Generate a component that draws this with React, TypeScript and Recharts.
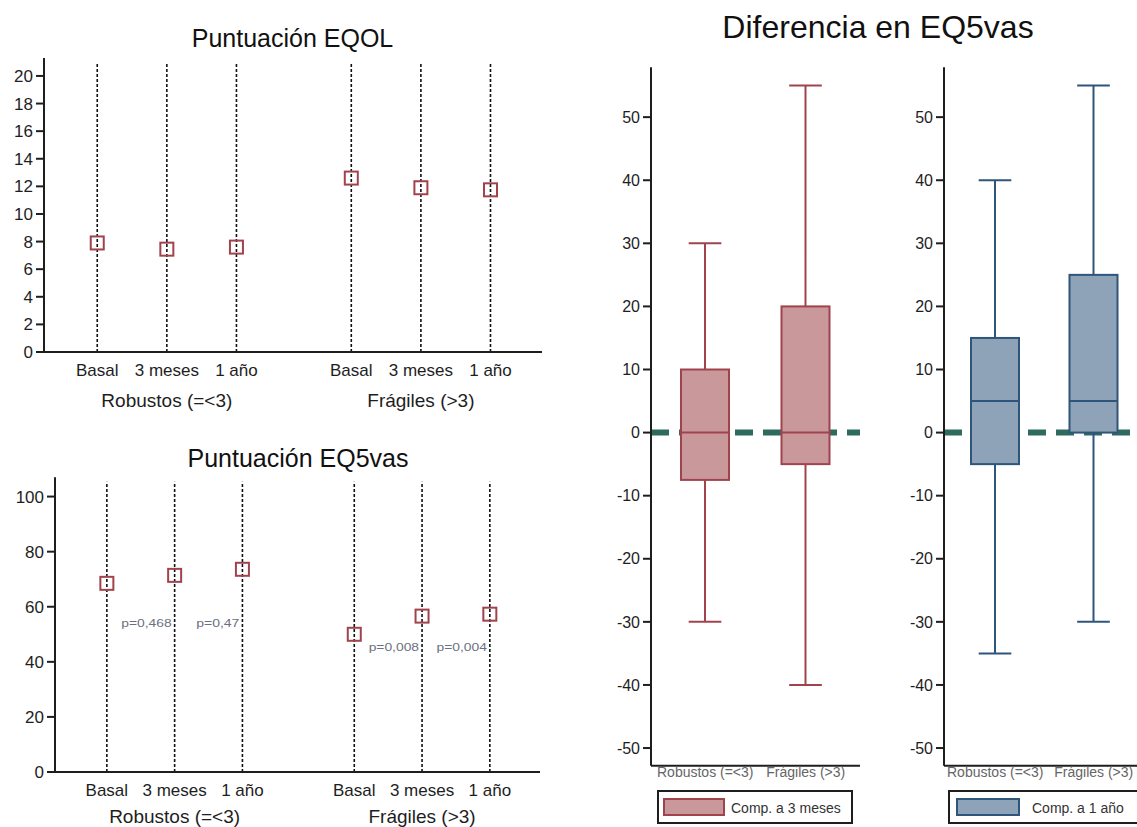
import { ScatterChart, Scatter, XAxis, YAxis, ReferenceLine, BarChart, Bar } from "recharts";

const timepoints = ["Basal", "3 meses", "1 año"];
const groups = ["Robustos (=<3)", "Frágiles (>3)"];

// mean EQOL score per time point
const eqolRobustos = [7.9, 7.45, 7.6];
const eqolFragiles = [12.6, 11.9, 11.75];

// mean EQ5 VAS per time point
const vasRobustos = [68.5, 71.4, 73.6];
const vasFragiles = [50, 56.6, 57.3];
const pRobustos = ["p=0,468", "p=0,47"];
const pFragiles = ["p=0,008", "p=0,004"];

const eqolTicks = [0, 2, 4, 6, 8, 10, 12, 14, 16, 18, 20];
const vasTicks = [0, 20, 40, 60, 80, 100];
const diffTicks = [-50, -40, -30, -20, -10, 0, 10, 20, 30, 40, 50];

// VAS change, box stats as [min, q1, median, q3, max]
const diff3mRobustos = [-30, -7.5, 0, 10, 30];
const diff3mFragiles = [-40, -5, 0, 20, 55];
const diff1aRobustos = [-35, -5, 5, 15, 40];
const diff1aFragiles = [-30, 0, 5, 25, 55];

const FONT = '"Liberation Sans", Arial, sans-serif';
const INK = "#1e1e1e";
const MARKER = "#a0434c";
const ZERO_LINE = "#2e6b5e";
const RED_FILL = "#c8989b";
const RED_LINE = "#a0434c";
const BLUE_FILL = "#8ea3b8";
const BLUE_LINE = "#2f557a";

// spacing between the two groups on the numeric x axis
const GROUP_STEP = 3.65;
const X_DOMAIN: [number, number] = [-0.765, 6.39];
const DIFF_DOMAIN: [number, number] = [-52.8, 57.9];
const xs = groups.flatMap((_, gi) => timepoints.map((_, ti) => gi * GROUP_STEP + ti));

const toPoints = (series: number[][]) =>
  series.flatMap((vals, gi) => vals.map((v, ti) => ({ x: gi * GROUP_STEP + ti, y: v })));

const eqolPoints = toPoints([eqolRobustos, eqolFragiles]);
const vasPoints = toPoints([vasRobustos, vasFragiles]);

// p-value labels sit left of the later time point, a bit under the baseline mean
const pDrop = [14.5, 4.7];
const pPoints = [pRobustos, pFragiles].flatMap((labels, gi) =>
  labels.map((text, k) => ({
    x: gi * GROUP_STEP + k + 1,
    y: [vasRobustos, vasFragiles][gi][0] - pDrop[gi],
    text,
  }))
);

const toBox = (stats: number[], group: string) => ({
  group,
  min: stats[0],
  q1: stats[1],
  median: stats[2],
  q3: stats[3],
  max: stats[4],
});
const box3m = [toBox(diff3mRobustos, groups[0]), toBox(diff3mFragiles, groups[1])];
const box1a = [toBox(diff1aRobustos, groups[0]), toBox(diff1aFragiles, groups[1])];

const SquareMarker = (props: any) => {
  const { cx, cy } = props;
  return <rect x={cx - 6.5} y={cy - 6.5} width={13} height={13} fill="none" stroke={MARKER} strokeWidth={2} />;
};

const PLabel = (props: any) => {
  const { cx, cy, payload } = props;
  return (
    <text
      x={cx - 3}
      y={cy}
      textAnchor="end"
      dominantBaseline="central"
      fontSize={10}
      fontFamily={FONT}
      fill="#6b7080"
      textLength={payload.text.length * 7.2}
      lengthAdjust="spacingAndGlyphs"
    >
      {payload.text}
    </text>
  );
};

const makeTimeTick = (groupDy: number) => (props: any) => {
  const { x, y, payload } = props;
  const i = xs.indexOf(payload.value);
  if (i < 0) return null;
  const gi = Math.floor(i / 3);
  const ti = i % 3;
  return (
    <g fontFamily={FONT} fill={INK}>
      <text x={x} y={y + 24} textAnchor="middle" fontSize={17}>
        {timepoints[ti]}
      </text>
      {ti === 1 && (
        <text x={x} y={y + groupDy} textAnchor="middle" fontSize={19}>
          {groups[gi]}
        </text>
      )}
    </g>
  );
};

const yTickStyle = (size: number) => ({ fill: INK, fontSize: size, fontFamily: FONT });

const MeansPanel = ({ points, yMax, ticks, withP, width, height, margin, yWidth, groupDy }: any) => {
  const Tick = makeTimeTick(groupDy);
  return (
    <ScatterChart width={width} height={height} margin={margin}>
      <XAxis
        type="number"
        dataKey="x"
        domain={X_DOMAIN}
        ticks={xs}
        interval={0}
        allowDataOverflow
        tickLine={false}
        tickSize={0}
        tickMargin={0}
        height={50}
        axisLine={{ stroke: INK, strokeWidth: 2 }}
        tick={<Tick />}
      />
      <YAxis
        type="number"
        dataKey="y"
        domain={[0, yMax]}
        ticks={ticks}
        interval={0}
        allowDataOverflow
        width={yWidth}
        tickSize={8}
        tickMargin={3}
        axisLine={{ stroke: INK, strokeWidth: 2 }}
        tickLine={{ stroke: INK, strokeWidth: 2 }}
        tick={yTickStyle(17)}
      />
      {xs.map((x) => (
        <ReferenceLine
          key={x}
          segment={[
            { x, y: 0 },
            { x, y: yMax * 0.985 },
          ]}
          stroke="#111"
          strokeWidth={1.6}
          strokeDasharray="3 2"
        />
      ))}
      <Scatter data={points} shape={<SquareMarker />} isAnimationActive={false} />
      {withP && <Scatter data={pPoints} shape={<PLabel />} isAnimationActive={false} />}
    </ScatterChart>
  );
};

const BoxShape = (props: any) => {
  const { x, y, width, height, payload, boxFill, boxStroke } = props;
  const top = Math.min(y, y + height);
  const h = Math.abs(height);
  const k = h / (payload.q3 - payload.q1);
  const py = (v: number) => top + (payload.q3 - v) * k;
  const cx = x + width / 2;
  const cap = width * 0.34;
  return (
    <g stroke={boxStroke} strokeWidth={2}>
      <line x1={cx} x2={cx} y1={py(payload.max)} y2={top} />
      <line x1={cx} x2={cx} y1={top + h} y2={py(payload.min)} />
      <line x1={cx - cap} x2={cx + cap} y1={py(payload.max)} y2={py(payload.max)} />
      <line x1={cx - cap} x2={cx + cap} y1={py(payload.min)} y2={py(payload.min)} />
      <rect x={x} y={top} width={width} height={h} fill={boxFill} />
      <line x1={x} x2={x + width} y1={py(payload.median)} y2={py(payload.median)} />
    </g>
  );
};

const GroupTick = (props: any) => {
  const { x, y, payload } = props;
  return (
    <text x={x} y={y + 11} textAnchor="middle" fontSize={14} fontFamily={FONT} fill="#666">
      {payload.value}
    </text>
  );
};

const BoxPanel = ({ data, fill, stroke, margin, width, padding }: any) => (
  <BarChart width={width} height={827} data={data} margin={margin} barSize={48}>
    {/* dashed zero line stays behind the boxes */}
    <ReferenceLine y={0} stroke={ZERO_LINE} strokeWidth={6} strokeDasharray="18 10" zIndex={-1} />
    <XAxis
      dataKey="group"
      padding={padding}
      height={30}
      tickLine={false}
      tickSize={0}
      tickMargin={0}
      interval={0}
      axisLine={{ stroke: INK, strokeWidth: 2 }}
      tick={<GroupTick />}
    />
    <YAxis
      type="number"
      domain={DIFF_DOMAIN}
      ticks={diffTicks}
      interval={0}
      allowDataOverflow
      width={50}
      tickSize={8}
      tickMargin={3}
      axisLine={{ stroke: INK, strokeWidth: 2 }}
      tickLine={{ stroke: INK, strokeWidth: 2 }}
      tick={yTickStyle(16)}
    />
    <Bar
      dataKey={(d: any) => [d.q1, d.q3]}
      shape={<BoxShape boxFill={fill} boxStroke={stroke} />}
      isAnimationActive={false}
    />
  </BarChart>
);

export default function App() {
  return (
    <div
      style={{
        position: "absolute",
        left: 0,
        top: 0,
        width: 1137,
        height: 827,
        overflow: "hidden",
        background: "#fff",
        fontFamily: FONT,
      }}
    >
      <div style={{ position: "absolute", left: 0, top: 0 }}>
        <MeansPanel
          points={eqolPoints}
          yMax={21.3}
          ticks={eqolTicks}
          withP={false}
          width={560}
          height={420}
          margin={{ top: 58, right: 18, bottom: 18, left: 4 }}
          yWidth={40}
          groupDy={55}
        />
      </div>
      <div style={{ position: "absolute", left: 0, top: 420 }}>
        <MeansPanel
          points={vasPoints}
          yMax={107}
          ticks={vasTicks}
          withP
          width={560}
          height={407}
          margin={{ top: 57.3, right: 20, bottom: 5, left: 5 }}
          yWidth={50}
          groupDy={51}
        />
      </div>
      <div style={{ position: "absolute", left: 590, top: 0 }}>
        <BoxPanel
          data={box3m}
          fill={RED_FILL}
          stroke={RED_LINE}
          width={290}
          margin={{ top: 67.3, right: 20, bottom: 31.3, left: 11 }}
          padding={{ left: 4, right: 4 }}
        />
      </div>
      <div style={{ position: "absolute", left: 880, top: 0 }}>
        <BoxPanel
          data={box1a}
          fill={BLUE_FILL}
          stroke={BLUE_LINE}
          width={280}
          margin={{ top: 67.3, right: 14, bottom: 31.3, left: 14 }}
          padding={{ left: 2, right: 3 }}
        />
      </div>
      <svg
        width={1137}
        height={827}
        style={{ position: "absolute", left: 0, top: 0, pointerEvents: "none" }}
        fontFamily={FONT}
      >
        <text x={292.5} y={46.7} textAnchor="middle" fontSize={25} fill="#111">
          Puntuación EQOL
        </text>
        <text x={298} y={466.7} textAnchor="middle" fontSize={25} fill="#111">
          Puntuación EQ5vas
        </text>
        <text x={878} y={38} textAnchor="middle" fontSize={32} fill="#111">
          Diferencia en EQ5vas
        </text>

        <rect x={658} y={791} width={194} height={32} fill="#fff" stroke={INK} strokeWidth={2} />
        <rect x={664} y={799} width={60} height={16} fill={RED_FILL} stroke={RED_LINE} strokeWidth={2} />
        <text x={731} y={808} dominantBaseline="central" fontSize={14} fill="#333">
          Comp. a 3 meses
        </text>

        <rect x={949} y={791} width={200} height={32} fill="#fff" stroke={INK} strokeWidth={2} />
        <rect x={957} y={799} width={62} height={16} fill={BLUE_FILL} stroke={BLUE_LINE} strokeWidth={2} />
        <text x={1032} y={808} dominantBaseline="central" fontSize={14} fill="#333">
          Comp. a 1 año
        </text>
      </svg>
    </div>
  );
}
